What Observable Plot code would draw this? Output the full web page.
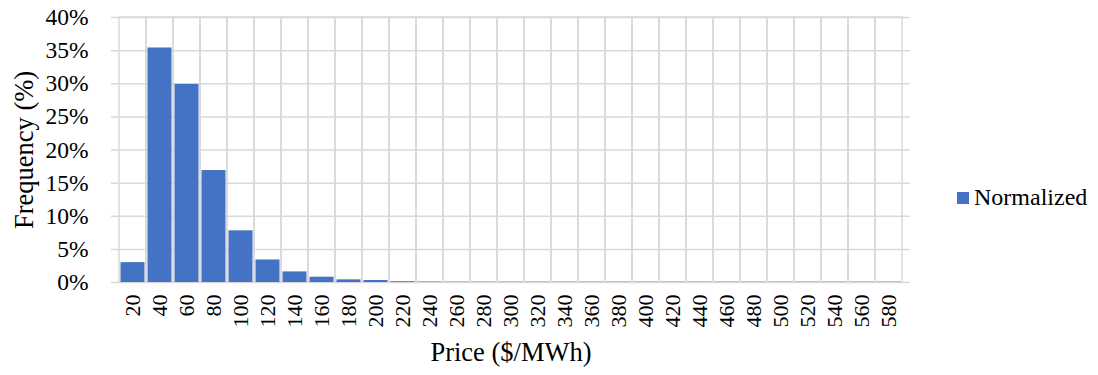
<!DOCTYPE html>
<html>
<head>
<meta charset="utf-8">
<script src="https://cdn.jsdelivr.net/npm/d3@7"></script>
<script src="https://cdn.jsdelivr.net/npm/@observablehq/plot@0.6"></script>
<style>
  body { margin: 0; background: #fff; }
  #wrap { position: relative; width: 1098px; height: 375px; }
  #wrap svg, #wrap svg text { font-family: 'Liberation Serif', 'Times New Roman', 'DejaVu Serif', serif !important; }
  #legend { position: absolute; left: 957px; top: 184px; font-family: 'Liberation Serif', 'Times New Roman', 'DejaVu Serif', serif; font-size: 24px; color: #000; display: flex; align-items: center; }
  #legend .sw { width: 12px; height: 12px; background: #4472C4; margin-right: 5px; }
</style>
</head>
<body>
<div id="wrap"><div id="legend"><div class="sw"></div><span>Normalized</span></div></div>
<script>
const categories = ["20","40","60","80","100","120","140","160","180","200","220","240","260","280","300","320","340","360","380","400","420","440","460","480","500","520","540","560","580"];
const frequency = [3.0,35.4,29.9,16.9,7.8,3.4,1.6,0.8,0.4,0.3,0.12,0.06,0.04,0.04,0.04,0.04,0.04,0.04,0.04,0.04,0.04,0.04,0.04,0.04,0.04,0.04,0.04,0.04,0.04];
const yTicks = [0,5,10,15,20,25,30,35,40];
const seriesName = "Normalized";
const barColor = "#4472C4";

const data = categories.map((c, i) => ({price: c, freq: frequency[i]}));

const chart = Plot.plot({
  width: 1098,
  height: 375,
  marginLeft: 111,
  marginRight: 188,
  marginTop: 17,
  marginBottom: 93,
  style: {fontSize: "18px", color: "#000", background: "#fff"},
  x: {domain: categories, padding: 0, label: null},
  y: {domain: [0, 40], label: null},
  marks: [
    Plot.ruleY(yTicks, {stroke: "#d9d9d9", strokeWidth: 1.5}),
    Plot.barY(categories, {x: d => d, y1: 0, y2: 40, fill: "none", stroke: "#d9d9d9", strokeWidth: 1.5}),
    Plot.barY(data, {x: "price", y: "freq", fill: barColor, insetLeft: 1.5, insetRight: 1.5}),
    Plot.axisY(yTicks, {tickSize: 0, tickPadding: 23, tickFormat: d => d + "%", fontSize: 23.5, label: null}),
    Plot.axisX({tickSize: 0, tickPadding: 12, tickRotate: -90, fontSize: 22, label: null}),
    Plot.text(["Frequency (%)"], {frameAnchor: "left", textAnchor: "middle", dx: -87, rotate: -90, fontSize: 26.5}),
    Plot.text(["Price ($/MWh)"], {frameAnchor: "bottom", textAnchor: "middle", dy: 78, fontSize: 26.5})
  ]
});
document.getElementById("wrap").prepend(chart);
</script>
</body>
</html>
